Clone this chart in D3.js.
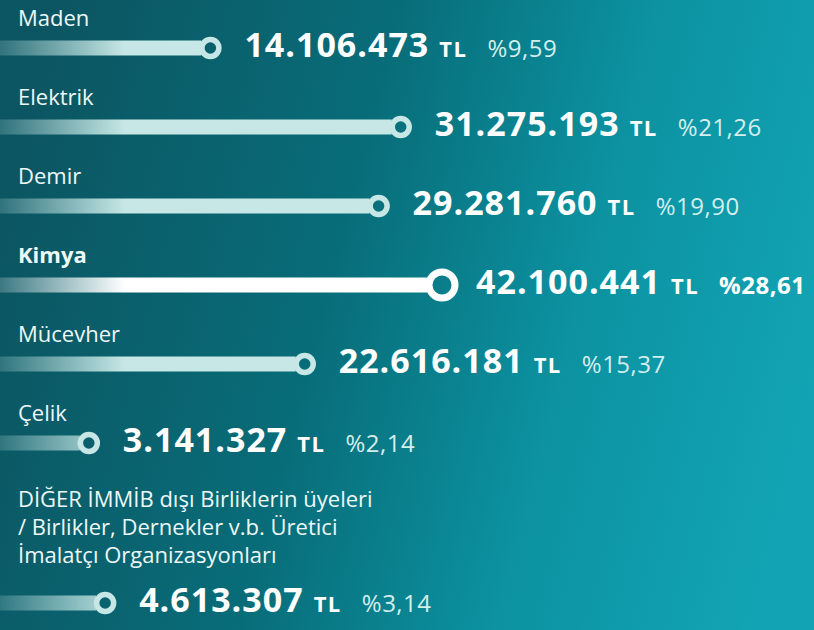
<!DOCTYPE html>
<html>
<head>
<meta charset="utf-8">
<script src="https://cdn.jsdelivr.net/npm/d3@7"></script>
<style>
  html, body { margin: 0; padding: 0; background: #0b5763; }
  svg { display: block; font-family: "Open Sans", "Noto Sans", sans-serif; }
</style>
</head>
<body>
<div id="chart"></div>
<script>
// sector names, export values (TL) and shares
const sectors = ['Maden', 'Elektrik', 'Demir', 'Kimya', 'Mücevher', 'Çelik',
    'DİĞER İMMİB dışı Birliklerin üyeleri|/ Birlikler, Dernekler v.b. Üretici|İmalatçı Organizasyonları']
const values = [14106473, 31275193, 29281760, 42100441, 22616181, 3141327, 4613307]
const shares = ['%9,59', '%21,26', '%19,90', '%28,61', '%15,37', '%2,14', '%3,14']
const highlight = 'Kimya'

const width = 814, height = 630

const svg = d3.select('#chart')
    .append('svg')
    .attr('width', width)
    .attr('height', height)

const defs = svg.append('defs')

var bg = defs.append('linearGradient')
    .attr('id', 'bg')
    .attr('x1', 0).attr('y1', 0.4)
    .attr('x2', 1).attr('y2', 0.6)
bg.append('stop').attr('offset', '0%').attr('stop-color', '#0b5662')
bg.append('stop').attr('offset', '40%').attr('stop-color', '#086d79')
bg.append('stop').attr('offset', '70%').attr('stop-color', '#0c92a1')
bg.append('stop').attr('offset', '100%').attr('stop-color', '#12a4b4')

svg.append('rect')
    .attr('width', width)
    .attr('height', height)
    .attr('fill', 'url(#bg)')

// bar fades in from the left edge
function barGradient(id, color) {
    var g = defs.append('linearGradient')
        .attr('id', id)
        .attr('gradientUnits', 'userSpaceOnUse')
        .attr('x1', 0).attr('x2', 125)
        .attr('y1', 0).attr('y2', 0)
    g.append('stop').attr('offset', '0%').attr('stop-color', color).attr('stop-opacity', 0.2)
    g.append('stop').attr('offset', '100%').attr('stop-color', color).attr('stop-opacity', 1)
}
barGradient('barLight', '#c6e7e5')
barGradient('barWhite', '#ffffff')

// circle position along the bar
const x = d3.scaleLinear()
    .domain([0, 35000000])
    .range([54, 442])
    .clamp(true)

const fmt = d3.formatLocale({ decimal: ',', thousands: '.', grouping: [3], currency: ['', ' TL'] }).format(',d')

// vertical layout: label lines, then the bar
var rows = []
var base = 26
sectors.forEach(function (s, i) {
    var lines = s.split('|')
    if (lines.length > 1) base += 7
    var barY = base + (lines.length - 1) * 28 + (lines.length > 1 ? 40 : 22)
    rows.push({ name: s, lines: lines, value: values[i], share: shares[i], labelY: base, barY: barY, hi: s === highlight })
    base = barY + 57
})

const row = svg.selectAll('g.row')
    .data(rows)
    .enter()
    .append('g')
    .attr('class', 'row')

row.append('text')
    .attr('x', 18)
    .attr('y', (d) => d.labelY)
    .attr('fill', '#eef8f8')
    .style('font-size', '22px')
    .style('font-weight', (d) => d.hi ? 700 : 400)
    .selectAll('tspan')
    .data((d) => d.lines.map((l, i) => ({ l: l, y: d.labelY + i * 28 })))
    .enter()
    .append('tspan')
    .attr('x', 18)
    .attr('y', (d) => d.y)
    .text((d) => d.l)

row.append('rect')
    .attr('x', 0)
    .attr('y', (d) => d.barY - 7.5)
    .attr('height', 15)
    .attr('width', (d) => x(d.value) - (d.hi ? 14 : 9))
    .attr('fill', (d) => d.hi ? 'url(#barWhite)' : 'url(#barLight)')

row.append('circle')
    .attr('cx', (d) => x(d.value))
    .attr('cy', (d) => d.barY)
    .attr('r', (d) => d.hi ? 13 : 8.5)
    .attr('fill', 'none')
    .attr('stroke', (d) => d.hi ? '#ffffff' : '#c6e7e5')
    .attr('stroke-width', (d) => d.hi ? 7 : 5.5)

const val = row.append('text')
    .attr('x', (d) => x(d.value) + 34)
    .attr('y', (d) => d.barY + 9)
    .attr('fill', '#ffffff')

val.append('tspan')
    .style('font-size', '34px')
    .style('font-weight', 700)
    .style('letter-spacing', '1px')
    .text((d) => fmt(d.value))

val.append('tspan')
    .attr('dx', 10)
    .style('font-size', '22px')
    .style('font-weight', 700)
    .style('letter-spacing', '1.5px')
    .text('TL')

val.append('tspan')
    .attr('dx', 20)
    .attr('fill', (d) => d.hi ? '#ffffff' : '#d4eeee')
    .style('font-size', '24px')
    .style('font-weight', (d) => d.hi ? 700 : 400)
    .style('letter-spacing', '0.5px')
    .text((d) => d.share)
</script>
</body>
</html>
